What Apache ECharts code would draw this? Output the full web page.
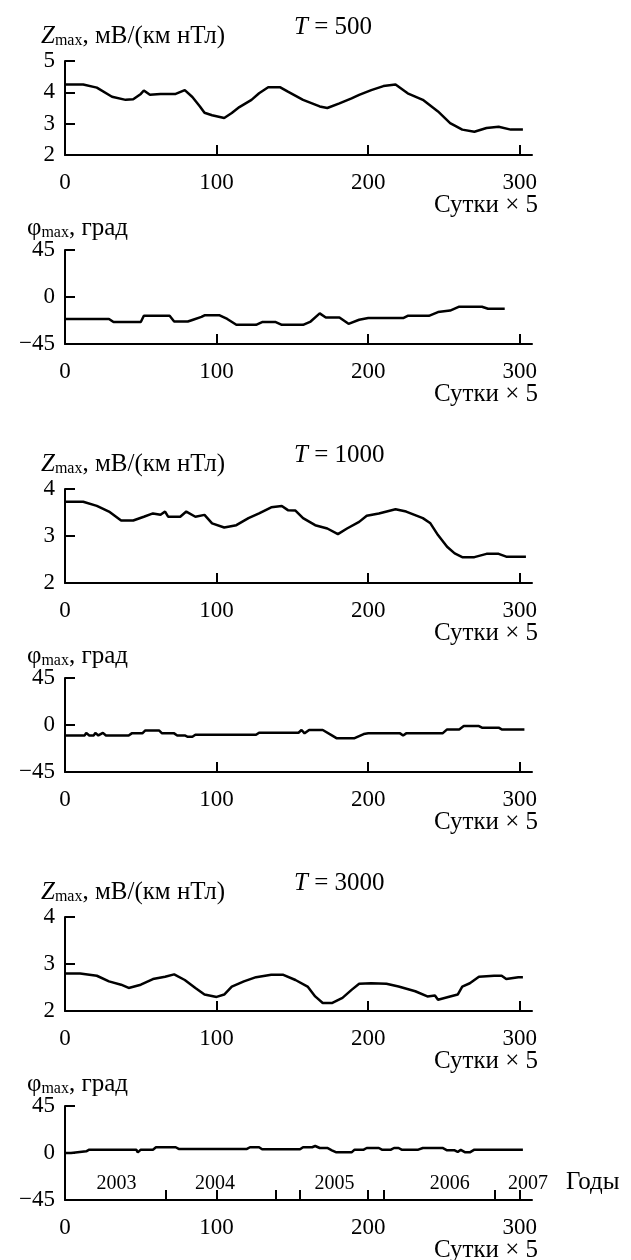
<!DOCTYPE html>
<html>
<head>
<meta charset="utf-8">
<script src="https://cdn.jsdelivr.net/npm/echarts@6/dist/echarts.min.js"></script>
<style>
  html, body { margin: 0; padding: 0; background: #fff; }
  #main { width: 631px; height: 1260px; }
</style>
</head>
<body>
<div id="main"></div>
<script>
// значения (ось X: сутки x 5)
var zT500Days = [0, 12, 21, 31, 40, 45, 50, 52, 56, 63, 73, 79, 84, 89, 92, 97, 105, 110, 115, 123, 128, 134, 142, 147, 157, 168, 173, 181, 189, 194, 202, 210, 218, 226, 236, 246, 254, 262, 270, 278, 286, 294, 302];
var zT500 = [4.25, 4.25, 4.15, 3.86, 3.76, 3.78, 3.95, 4.06, 3.92, 3.95, 3.95, 4.07, 3.85, 3.55, 3.35, 3.27, 3.18, 3.34, 3.53, 3.76, 3.97, 4.16, 4.16, 4.02, 3.76, 3.55, 3.5, 3.65, 3.81, 3.92, 4.07, 4.2, 4.25, 3.97, 3.76, 3.39, 3.02, 2.81, 2.74, 2.86, 2.9, 2.81, 2.81];

var phiT500Days = [0, 29, 32, 50, 52, 69, 72, 81, 84, 90, 92, 102, 107, 113, 126, 130, 139, 143, 157, 162, 168, 172, 181, 187, 194, 200, 223, 226, 240, 246, 254, 260, 275, 279, 290];
var phiT500 = [-21, -21, -24, -24, -18, -18, -23.5, -23.5, -22, -19, -17.5, -17.5, -21, -26.6, -26.6, -24, -24, -26.6, -26.6, -23.5, -15.7, -19.6, -19.6, -25.7, -21.8, -20.2, -20.2, -18, -18, -14.4, -13, -9.3, -9.3, -11.2, -11.2];

var zT1000Days = [0, 12, 21, 29, 37, 45, 52, 58, 63, 66, 68, 76, 80, 86, 92, 97, 105, 113, 121, 128, 136, 143, 147, 152, 157, 165, 173, 180, 186, 194, 199, 207, 218, 225, 236, 241, 246, 252, 257, 262, 270, 278, 286, 291, 304];
var zT1000 = [3.73, 3.73, 3.64, 3.52, 3.33, 3.33, 3.41, 3.48, 3.45, 3.52, 3.41, 3.41, 3.52, 3.41, 3.45, 3.27, 3.18, 3.23, 3.38, 3.48, 3.61, 3.64, 3.55, 3.54, 3.38, 3.23, 3.16, 3.04, 3.16, 3.3, 3.43, 3.48, 3.57, 3.52, 3.38, 3.27, 3.02, 2.77, 2.63, 2.55, 2.55, 2.62, 2.62, 2.56, 2.56];

var phiT1000Days = [0, 13, 14, 16, 19, 20, 22, 25, 27, 42, 44, 51, 53, 62, 64, 72, 74, 79, 81, 84, 86, 126, 128, 154, 156, 158, 161, 170, 176, 179, 191, 197, 200, 221, 223, 225, 249, 252, 260, 263, 273, 275, 286, 288, 303];
var phiT1000 = [-10, -10, -7.5, -10, -10, -7.5, -10, -7.5, -10, -10, -8, -8, -5.2, -5.2, -8, -8, -10, -10, -11.3, -11.3, -9.4, -9.4, -7.4, -7.4, -4.8, -8, -4.8, -4.8, -10, -12.6, -12.6, -8.7, -8, -8, -10, -8, -8, -4.2, -4.2, -1, -1, -2.6, -2.6, -4.2, -4.2];

var zT3000Days = [0, 10, 21, 29, 37, 42, 50, 58, 66, 72, 79, 86, 92, 100, 105, 110, 118, 126, 136, 144, 152, 160, 165, 170, 176, 183, 189, 194, 202, 212, 220, 231, 239, 244, 246, 254, 259, 262, 267, 273, 283, 288, 291, 299, 302];
var zT3000 = [2.8, 2.8, 2.75, 2.63, 2.56, 2.49, 2.56, 2.68, 2.73, 2.78, 2.66, 2.49, 2.35, 2.3, 2.35, 2.52, 2.63, 2.72, 2.77, 2.77, 2.66, 2.52, 2.31, 2.17, 2.17, 2.28, 2.45, 2.58, 2.59, 2.58, 2.52, 2.42, 2.31, 2.33, 2.24, 2.31, 2.35, 2.52, 2.59, 2.73, 2.75, 2.75, 2.68, 2.72, 2.72];

var phiT3000Days = [0, 4, 5, 14, 16, 47, 48, 50, 58, 60, 73, 75, 120, 122, 128, 130, 155, 157, 163, 165, 168, 173, 176, 179, 189, 191, 197, 199, 207, 209, 215, 217, 220, 222, 233, 236, 249, 252, 257, 259, 261, 264, 267, 270, 302];
var phiT3000 = [0, 0, 1.6, 1.6, 3.2, 3.2, 0.6, 3.2, 3.2, 5.5, 5.5, 3.9, 3.9, 5.5, 5.5, 3.5, 3.5, 5.5, 5.5, 6.7, 4.8, 4.8, 2.6, 0.6, 0.6, 3.2, 3.2, 4.8, 4.8, 3.2, 3.2, 4.8, 4.8, 3.2, 3.2, 4.8, 4.8, 2.6, 2.6, 1, 3, 0.6, 0.6, 3.2, 3.2];

// оси
var dayTicks = [0, 100, 200, 300];
var yearTicks = [0, 66.3, 100, 138.9, 154.7, 200, 210.2, 283.6, 300];
var yearNames = ['2003', '2004', '2005', '2006', '2007'];
var yearPos = [34, 99, 177.7, 253.7, 305.4];
var periods = ['500', '1000', '3000'];

var FONT = 'Liberation Serif';
var gridTops = [61, 250, 489, 678, 917, 1106];
var gridH = 94;
var gridLeft = 65, gridW = 467;

var panels = [
  {x: zT500Days, y: zT500, min: 2, max: 5, step: 1, kind: 'z', T: periods[0]},
  {x: phiT500Days, y: phiT500, min: -45, max: 45, step: 45, kind: 'phi'},
  {x: zT1000Days, y: zT1000, min: 2, max: 4, step: 1, kind: 'z', T: periods[1]},
  {x: phiT1000Days, y: phiT1000, min: -45, max: 45, step: 45, kind: 'phi'},
  {x: zT3000Days, y: zT3000, min: 2, max: 4, step: 1, kind: 'z', T: periods[2]},
  {x: phiT3000Days, y: phiT3000, min: -45, max: 45, step: 45, kind: 'phi'}
];

function zip(a, b) {
  var out = [];
  for (var i = 0; i < a.length; i++) out.push([a[i], b[i]]);
  return out;
}

function makeRich() {
  return {
    i: {fontFamily: FONT, fontSize: 25, fontStyle: 'italic', fontWeight: 'normal', color: '#000'},
    sub: {fontFamily: FONT, fontSize: 16, fontWeight: 'normal', color: '#000', padding: [10, 0, 0, 0]},
    n: {fontFamily: FONT, fontSize: 25, fontWeight: 'normal', color: '#000'}
  };
}

function minusFmt(v) { return v < 0 ? '\u2212' + Math.abs(v) : String(v); }

var grids = [], xAxes = [], yAxes = [], series = [], titles = [];

for (var i = 0; i < panels.length; i++) {
  var p = panels[i];
  var gTop = gridTops[i];
  var last = (i == panels.length - 1);
  grids.push({left: gridLeft, top: gTop, width: gridW, height: gridH});
  xAxes.push({
    type: 'value', gridIndex: i, min: 0, max: 308, interval: 100,
    axisLine: {onZero: false, lineStyle: {color: '#000', width: 2}},
    axisTick: {inside: true, length: 10, customValues: last ? yearTicks : dayTicks, lineStyle: {color: '#000', width: 2}},
    axisLabel: {customValues: dayTicks, color: '#000', fontFamily: FONT, fontSize: 23, margin: 16},
    splitLine: {show: false}
  });
  yAxes.push({
    type: 'value', gridIndex: i, min: p.min, max: p.max, interval: p.step,
    axisLine: {show: true, onZero: false, lineStyle: {color: '#000', width: 2}},
    axisTick: {show: true, inside: true, length: 10, lineStyle: {color: '#000', width: 2}},
    axisLabel: {color: '#000', fontFamily: FONT, fontSize: 23, margin: 10, formatter: minusFmt},
    splitLine: {show: false}
  });
  series.push({
    type: 'line', xAxisIndex: i, yAxisIndex: i, data: zip(p.x, p.y),
    showSymbol: false, symbol: 'none', animation: false,
    lineStyle: {color: '#000', width: 2.5}
  });

  if (p.kind == 'z') {
    titles.push({left: 41, top: gTop - 38, padding: 0,
      text: '{i|Z}{sub|max}{n|, мВ/(км нТл)}', textStyle: {fontWeight: 'normal', rich: makeRich()}});
    titles.push({left: 294, top: gTop - 46, padding: 0,
      text: '{i|T}{n| = ' + p.T + '}', textStyle: {fontWeight: 'normal', rich: makeRich()}});
  } else {
    titles.push({left: 27, top: gTop - 35, padding: 0,
      text: '{n|φ}{sub|max}{n|, град}', textStyle: {fontWeight: 'normal', rich: makeRich()}});
  }
  titles.push({right: 93, top: gTop + gridH + 38, padding: 0,
    text: 'Сутки × 5', textStyle: {fontFamily: FONT, fontSize: 25, fontWeight: 'normal', color: '#000'}});
}

// подписи годов на нижней панели (у scatter по умолчанию opacity 0.8)
var yearData = [];
for (var k = 0; k < yearPos.length; k++) yearData.push([yearPos[k], -29]);
series.push({
  type: 'scatter', xAxisIndex: 5, yAxisIndex: 5, data: yearData,
  symbolSize: 0.1, itemStyle: {color: '#000', opacity: 1}, animation: false, silent: true,
  label: {show: true, position: 'inside', color: '#000', opacity: 1, textBorderWidth: 0, fontFamily: FONT, fontSize: 20,
    formatter: function (o) { return yearNames[o.dataIndex]; }}
});
titles.push({left: 566, top: 1170, padding: 0, text: 'Годы',
  textStyle: {fontFamily: FONT, fontSize: 25, fontWeight: 'normal', color: '#000'}});

var chart = echarts.init(document.getElementById('main'));
chart.setOption({
  backgroundColor: '#fff',
  animation: false,
  title: titles,
  grid: grids,
  xAxis: xAxes,
  yAxis: yAxes,
  series: series
});
</script>
</body>
</html>
